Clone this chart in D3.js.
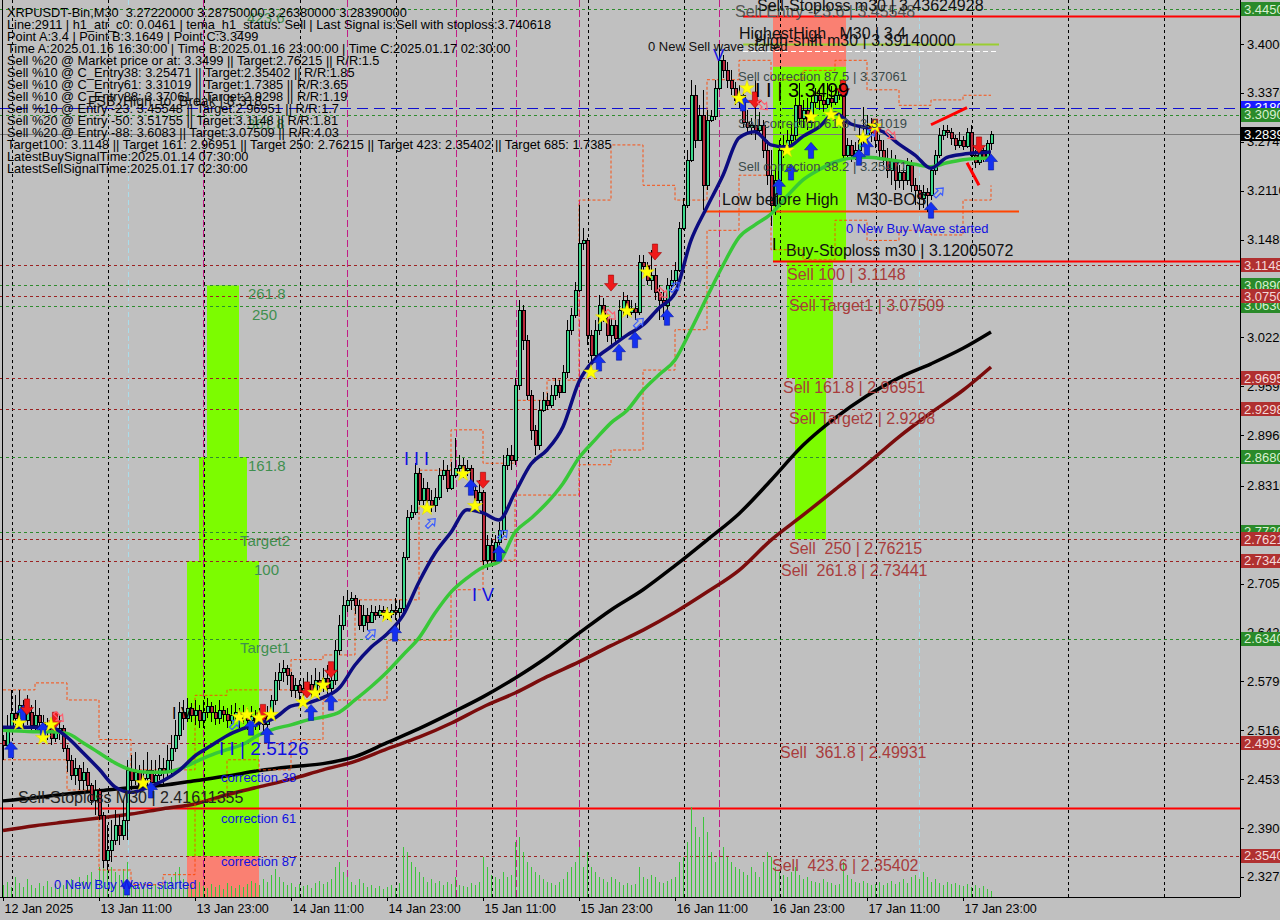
<!DOCTYPE html>
<html><head><meta charset="utf-8">
<script src="https://cdn.jsdelivr.net/npm/d3@7"></script>
<style>
body{margin:0;background:#c0c0c0;overflow:hidden}
svg{display:block}
text{font-family:"Liberation Sans",Arial,sans-serif;white-space:pre}
</style></head><body>
<svg id="c" width="1280" height="920"></svg>
<script>
// ---------------- DATA ----------------
const firstOpen = 2.504;
const closes = [
2.497,2.516,2.538,2.532,2.549,2.529,2.539,2.523,2.536,2.527,
2.516,2.519,2.506,2.514,2.519,2.493,2.478,2.458,2.467,2.452,
2.462,2.445,2.426,2.439,2.407,2.349,2.362,2.375,2.394,2.381,
2.400,2.465,2.452,2.462,2.445,2.454,2.465,2.449,2.458,2.467,
2.462,2.478,2.493,2.510,2.539,2.532,2.545,2.536,2.542,2.529,
2.539,2.547,2.539,2.532,2.542,2.537,2.529,2.536,2.539,2.532,
2.537,2.529,2.534,2.527,2.532,2.524,2.534,2.555,2.581,2.591,
2.596,2.587,2.568,2.574,2.565,2.570,2.576,2.568,2.581,2.574,
2.583,2.570,2.581,2.619,2.652,2.677,2.684,2.686,2.677,2.652,
2.664,2.655,2.668,2.664,2.671,2.668,2.666,2.671,2.668,2.673,
2.739,2.791,2.797,2.847,2.813,2.828,2.813,2.806,2.817,2.845,
2.851,2.828,2.845,2.854,2.858,2.851,2.854,2.826,2.813,2.823,
2.735,2.755,2.735,2.758,2.774,2.858,2.871,2.864,2.961,3.057,
3.019,2.948,2.903,2.883,2.929,2.941,2.935,2.948,2.961,2.952,
2.977,3.032,3.051,3.083,3.144,3.147,3.025,2.999,3.032,3.064,
3.047,3.025,3.038,3.021,3.057,3.070,3.055,3.060,3.055,3.119,
3.114,3.096,3.102,3.081,3.070,3.064,3.090,3.096,3.109,3.163,
3.193,3.251,3.334,3.276,3.309,3.218,3.302,3.307,3.343,3.379,
3.366,3.354,3.343,3.328,3.334,3.300,3.293,3.296,3.289,3.296,
3.263,3.231,3.193,3.225,3.263,3.270,3.276,3.283,3.321,3.305,
3.315,3.300,3.325,3.334,3.328,3.323,3.330,3.325,3.334,3.341,
3.257,3.270,3.257,3.263,3.276,3.283,3.296,3.287,3.276,3.263,
3.253,3.238,3.251,3.225,3.235,3.225,3.244,3.218,3.212,3.202,
3.209,3.205,3.238,3.257,3.283,3.289,3.287,3.279,3.270,3.276,
3.269,3.287,3.257,3.248,3.263,3.253,3.272,3.2839];
const highs = [
2.510,2.536,2.568,2.561,2.568,2.555,2.561,2.549,2.555,2.545,
2.536,2.532,2.523,2.529,2.536,2.523,2.497,2.484,2.480,2.471,
2.475,2.467,2.448,2.452,2.442,2.411,2.394,2.400,2.413,2.407,
2.426,2.478,2.484,2.488,2.471,2.478,2.488,2.478,2.478,2.484,
2.480,2.497,2.510,2.529,2.552,2.555,2.558,2.551,2.555,2.549,
2.555,2.558,2.552,2.549,2.555,2.547,2.545,2.549,2.551,2.545,
2.549,2.545,2.547,2.542,2.545,2.539,2.547,2.561,2.591,2.603,
2.607,2.600,2.591,2.583,2.581,2.583,2.591,2.587,2.596,2.591,
2.596,2.600,2.604,2.632,2.664,2.689,2.697,2.694,2.690,2.684,
2.677,2.673,2.677,2.676,2.677,2.676,2.675,2.679,2.686,2.684,
2.746,2.800,2.806,2.860,2.854,2.841,2.836,2.826,2.828,2.854,
2.864,2.858,2.862,2.893,2.871,2.867,2.864,2.858,2.832,2.838,
2.826,2.767,2.764,2.767,2.784,2.871,2.880,2.883,2.970,3.070,
3.064,3.025,2.954,2.909,2.941,2.952,2.950,2.961,2.970,2.967,
2.987,3.044,3.060,3.093,3.193,3.163,3.150,3.032,3.044,3.077,
3.073,3.051,3.047,3.044,3.070,3.081,3.077,3.070,3.066,3.128,
3.128,3.119,3.135,3.111,3.090,3.083,3.099,3.109,3.119,3.171,
3.202,3.263,3.354,3.347,3.321,3.341,3.315,3.315,3.354,3.400,
3.386,3.377,3.366,3.351,3.347,3.338,3.315,3.305,3.354,3.312,
3.302,3.276,3.263,3.240,3.276,3.283,3.289,3.296,3.330,3.350,
3.328,3.330,3.334,3.343,3.341,3.334,3.350,3.346,3.343,3.347,
3.345,3.279,3.276,3.274,3.292,3.319,3.309,3.305,3.296,3.283,
3.276,3.266,3.263,3.257,3.244,3.240,3.253,3.251,3.227,3.218,
3.218,3.215,3.244,3.263,3.292,3.296,3.296,3.292,3.283,3.287,
3.281,3.292,3.296,3.263,3.270,3.266,3.276,3.2875];
const lows = [
2.478,2.493,2.514,2.523,2.527,2.519,2.523,2.514,2.516,2.516,
2.506,2.504,2.497,2.501,2.504,2.488,2.462,2.452,2.445,2.439,
2.439,2.437,2.420,2.407,2.400,2.339,2.336,2.346,2.368,2.368,
2.375,2.375,2.439,2.445,2.437,2.439,2.445,2.439,2.442,2.452,
2.445,2.452,2.458,2.488,2.504,2.516,2.527,2.527,2.523,2.519,
2.519,2.532,2.527,2.523,2.524,2.527,2.519,2.524,2.527,2.519,
2.524,2.516,2.522,2.516,2.516,2.512,2.519,2.529,2.549,2.568,
2.578,2.574,2.559,2.558,2.555,2.560,2.564,2.558,2.565,2.561,
2.565,2.563,2.561,2.574,2.613,2.645,2.668,2.671,2.666,2.645,
2.643,2.645,2.655,2.658,2.661,2.658,2.658,2.661,2.658,2.645,
2.668,2.735,2.787,2.793,2.806,2.806,2.806,2.797,2.797,2.813,
2.838,2.823,2.826,2.841,2.849,2.841,2.843,2.819,2.806,2.806,
2.729,2.722,2.729,2.733,2.755,2.767,2.851,2.851,2.858,2.954,
3.006,2.941,2.890,2.871,2.877,2.926,2.929,2.931,2.941,2.944,
2.952,2.970,3.025,3.047,3.081,3.135,3.012,2.987,2.996,3.025,
3.042,3.016,3.012,3.012,3.016,3.051,3.047,3.051,3.044,3.051,
3.106,3.090,3.083,3.070,3.044,3.044,3.057,3.083,3.090,3.106,
3.160,3.189,3.248,3.266,3.276,3.186,3.212,3.300,3.302,3.341,
3.356,3.343,3.334,3.321,3.318,3.292,3.287,3.283,3.276,3.283,
3.253,3.218,3.165,3.180,3.218,3.253,3.263,3.270,3.276,3.296,
3.292,3.289,3.292,3.318,3.315,3.312,3.318,3.315,3.321,3.328,
3.251,3.253,3.248,3.251,3.257,3.270,3.276,3.274,3.266,3.253,
3.244,3.227,3.218,3.212,3.215,3.212,3.218,3.209,3.193,3.186,
3.189,3.184,3.199,3.231,3.253,3.276,3.279,3.270,3.263,3.266,
3.263,3.266,3.251,3.240,3.244,3.248,3.251,3.2638];
const volumes = [
12,15,10,20,14,10,18,12,9,14, 11,16,10,13,9,12,15,18,14,20,
16,22,25,18,30,45,38,30,25,22, 28,35,15,12,10,14,9,11,13,10,
12,15,20,25,30,18,14,12,10,15, 11,9,13,10,12,8,14,11,9,12,
10,13,16,14,12,18,15,22,28,20, 15,12,14,10,13,11,12,9,14,16,
13,15,18,30,35,25,20,15,12,18, 14,10,12,9,11,8,10,12,9,14,
50,45,35,30,25,20,15,18,14,16, 12,15,13,20,12,11,10,14,12,15,
40,30,22,20,18,25,20,22,55,60, 45,35,30,25,22,18,15,14,12,15,
18,25,30,35,50,30,45,30,25,20, 18,15,20,18,15,12,14,12,13,30,
20,18,22,20,15,14,16,18,20,35, 40,55,90,70,60,80,65,45,35,40,
50,40,35,30,28,25,22,30,25,20, 35,45,40,30,25,22,20,25,30,22,
18,20,16,15,14,18,15,14,12,13, 35,22,18,15,14,16,14,12,13,15,
12,14,16,13,15,18,14,20,22,18, 25,20,15,18,14,12,15,13,14,12,
11,13,10,12,9,11,8,6];

// moving averages (every 4th bar + last bar)
const temaLine = [2.520,2.520,2.520,2.520,2.507,2.487,2.466,2.443,2.436,2.442,
2.451,2.464,2.483,2.496,2.509,2.518,2.525,2.532,2.547,2.551,
2.558,2.570,2.600,2.623,2.640,2.664,2.707,2.744,2.771,2.800,
2.796,2.787,2.822,2.859,2.877,2.907,2.965,2.994,3.010,3.025,
3.038,3.060,3.079,3.147,3.190,3.231,3.279,3.287,3.270,3.267,
3.281,3.293,3.311,3.297,3.292,3.287,3.271,3.257,3.240,3.254,
3.258,3.260,3.261];
const emaLine = [2.516,2.515,2.514,2.514,2.512,2.500,2.487,2.474,2.465,2.462,
2.462,2.466,2.475,2.484,2.491,2.498,2.510,2.518,2.523,2.529,
2.533,2.539,2.555,2.572,2.591,2.613,2.635,2.667,2.694,2.712,
2.726,2.733,2.771,2.789,2.809,2.834,2.867,2.890,2.912,2.928,
2.954,2.974,2.993,3.032,3.074,3.115,3.151,3.167,3.181,3.204,
3.225,3.238,3.248,3.253,3.254,3.252,3.249,3.245,3.242,3.247,
3.251,3.253,3.253];
// slow averages (every 8th bar + last bar)
const ma200 = [2.425,2.429,2.434,2.438,2.442,2.445,2.451,2.457,2.464,2.469,
2.473,2.482,2.500,2.518,2.538,2.559,2.583,2.610,2.641,2.671,
2.697,2.728,2.761,2.795,2.838,2.883,2.918,2.947,2.970,2.988,
3.008,3.029];
const ma200b = [2.387,2.393,2.398,2.403,2.408,2.415,2.421,2.433,2.443,2.453,
2.465,2.476,2.492,2.507,2.525,2.546,2.564,2.585,2.604,2.625,
2.645,2.668,2.694,2.722,2.761,2.793,2.826,2.859,2.894,2.925,
2.954,2.984];
const bandUpper = [2.568,2.577,2.555,2.504,2.465,2.465,2.561,2.568,2.568,2.607,
2.613,2.684,2.684,2.851,2.903,2.860,2.941,2.967,3.199,3.270,
3.218,3.199,3.354,3.379,3.354,3.366,3.379,3.341,3.321,3.328,
3.334,3.334];
const bandLower = [2.478,2.478,2.439,2.336,2.317,2.330,2.426,2.478,2.465,2.504,
2.555,2.555,2.632,2.632,2.697,2.735,2.819,2.819,2.858,2.877,
2.980,3.032,3.160,3.231,3.135,3.122,3.173,3.147,3.160,3.154,
3.199,3.218];

// signals
const buyArrowBars=[2,5,10,31,37,62,66,77,82,98,117,124,149,154,158,166,185,194,197,202,214,216,232,247];
const buyArrowPrices=[2.491,2.538,2.516,2.314,2.439,2.520,2.510,2.539,2.552,2.641,2.829,2.744,2.989,3.003,3.019,3.048,3.324,3.216,3.235,3.263,3.254,3.267,3.186,3.248];
const sellArrowBars=[6,13,65,76,82,120,152,163,188,210,218,244];
const sellArrowPrices=[2.546,2.529,2.539,2.568,2.594,2.838,3.092,3.132,3.328,3.343,3.293,3.270];
const starBars=[4,10,12,35,59,61,64,67,75,78,80,96,106,115,118,147,150,156,161,184,186,196,202,207,209,215,218];
const starPrices=[2.525,2.506,2.523,2.448,2.533,2.536,2.532,2.536,2.552,2.564,2.574,2.664,2.802,2.846,2.805,2.977,3.048,3.056,3.106,3.330,3.343,3.263,3.306,3.309,3.300,3.279,3.294];
const hollowBuyBars=[58,92,107,125,159,168,217,234];
const hollowBuyPrices=[2.524,2.640,2.783,2.768,3.041,3.087,3.285,3.209];
const hollowSellBars=[14,152,165,190,222];
const hollowSellPrices=[2.533,3.051,3.079,3.321,3.283];

// levels
const greenLevels=[3.445,3.309,3.089,3.063,2.868,2.772,2.734,2.634];
const greenNames=["423.6","361.8","261.8","250","161.8","Target2","100","Target1"];
const greenTags=["3.44500","3.30900","3.08900","3.06300","2.86800","2.77200","2.63400"];
const greenTagValues=[3.445,3.309,3.089,3.063,2.868,2.772,2.634];
const redLevels=[3.1148,3.07509,2.96951,2.9298,2.76215,2.73441,2.49931,2.35402];
const redNames=["Sell 100 | 3.1148","Sell Target1 | 3.07509","Sell 161.8 | 2.96951","Sell Target2 | 2.9298","Sell  250 | 2.76215","Sell  261.8 | 2.73441","Sell  361.8 | 2.49931","Sell  423.6 | 2.35402"];
const leftBandLevels=[3.089,2.868,2.734,2.354];
const rightBandLevels=[3.43625,3.37061,3.12005,2.96951,2.76215];
const correctionLevels=[3.37061,3.31019,3.25471];
const correctionNames=["Sell correction 87.5 | 3.37061","Sell correction 61.8 | 3.31019","Sell correction 38.2 | 3.25471"];
const bidPrice=3.2839, fsbLevel=3.318, sellStopLeft=2.41611355, buyStop=3.12005072, sellStopTop=3.43624928;
const highestHigh=3.4, highShift=3.3914, lowBeforeHigh=3.185, sellEntry=3.45548, pointC=3.3499, pointII=2.5126;

const priceTicks=[3.400,3.337,3.274,3.211,3.148,3.085,3.022,2.959,2.896,2.831,2.768,2.705,2.642,2.579,2.516,2.453,2.390,2.327];
const timeLabels=["12 Jan 2025","13 Jan 11:00","13 Jan 23:00","14 Jan 11:00","14 Jan 23:00","15 Jan 11:00","15 Jan 23:00","16 Jan 11:00","16 Jan 23:00","17 Jan 11:00","17 Jan 23:00"];
const infoLines=[
"XRPUSDT-Bin,M30  3.27220000 3.28750000 3.26380000 3.28390000",
"Line:2911 | h1_atr_c0: 0.0461 | tema_h1_status: Sell | Last Signal is:Sell with stoploss:3.740618",
"Point A:3.4 | Point B:3.1649 | Point C:3.3499",
"Time A:2025.01.16 16:30:00 | Time B:2025.01.16 23:00:00 | Time C:2025.01.17 02:30:00",
"Sell %20 @ Market price or at: 3.3499 || Target:2.76215 || R/R:1.5",
"Sell %10 @ C_Entry38: 3.25471 || Target:2.35402 || R/R:1.85",
"Sell %10 @ C_Entry61: 3.31019 || Target:1.7385 || R/R:3.65",
"Sell %10 @ C_Entry88: 3.37061 || Target:2.9298 || R/R:1.19",
"Sell %10 @ Entry -23: 3.45548 || Target:2.96951 || R/R:1.7",
"Sell %20 @ Entry -50: 3.51755 || Target:3.1148 || R/R:1.81",
"Sell %20 @ Entry -88: 3.6083 || Target:3.07509 || R/R:4.03",
"Target100: 3.1148 || Target 161: 2.96951 || Target 250: 2.76215 || Target 423: 2.35402 || Target 685: 1.7385",
"LatestBuySignalTime:2025.01.14 07:30:00",
"LatestSellSignalTime:2025.01.17 02:30:00"];

// ---------------- DRAW ----------------
const svg=d3.select('#c');
const PR=1240, PB=897;
const x=d3.scaleLinear().domain([0,247]).range([3,991]);
const y=d3.scaleLinear().domain([2.3012,3.4567]).range([PB,0]);
svg.append('rect').attr('width',1280).attr('height',920).attr('fill','#c0c0c0');
svg.append('clipPath').attr('id','pc').append('rect').attr('x',0).attr('y',0).attr('width',PR).attr('height',PB);
const P=svg.append('g').attr('clip-path','url(#pc)');

// bands
function band(b0,b1,p0,p1,col){P.append('rect').attr('x',x(b0)).attr('width',x(b1)-x(b0)).attr('y',y(p0)).attr('height',y(p1)-y(p0)).attr('fill',col);}
band(51,59,leftBandLevels[0],leftBandLevels[1],'#7cfc00');
band(49,61,leftBandLevels[1],leftBandLevels[2],'#7cfc00');
band(46,64,leftBandLevels[2],leftBandLevels[3],'#7cfc00');
band(46,64,leftBandLevels[3],y.domain()[0],'#fa8072');
band(192.5,210.75,rightBandLevels[0],rightBandLevels[1],'#fa8072');
band(192.5,210.75,rightBandLevels[1],rightBandLevels[2],'#7cfc00');
band(196,207.5,rightBandLevels[2],rightBandLevels[3],'#7cfc00');
band(198,205.75,rightBandLevels[3],rightBandLevels[4],'#7cfc00');

// vertical lines
const gridBars=d3.range(0,13).map(k=>24*k+2.25);
gridBars.forEach(b=>P.append('line').attr('x1',Math.round(x(b))+.5).attr('x2',Math.round(x(b))+.5).attr('y1',0).attr('y2',PB).attr('stroke','#000').attr('stroke-dasharray','3,3'));
[50,86,113.25,128.25,144,179].forEach(b=>P.append('line').attr('x1',Math.round(x(b))+.5).attr('x2',Math.round(x(b))+.5).attr('y1',0).attr('y2',PB).attr('stroke','#c21a86').attr('stroke-dasharray','7,3'));
[31.25,229].forEach(b=>P.append('line').attr('x1',Math.round(x(b))+.5).attr('x2',Math.round(x(b))+.5).attr('y1',0).attr('y2',PB).attr('stroke','#a9dcea').attr('stroke-dasharray','5,3'));

// horizontal level lines
function hline(p,col,dash,w,x0,x1){P.append('line').attr('x1',x0==null?0:x0).attr('x2',x1==null?PR:x1).attr('y1',Math.round(y(p))+.5).attr('y2',Math.round(y(p))+.5).attr('stroke',col).attr('stroke-width',w||1).attr('stroke-dasharray',dash||null);}
greenLevels.forEach(p=>hline(p,'#2e8b2e','3,3'));
redLevels.forEach(p=>hline(p,'#9b2222','3,3'));
hline(fsbLevel,'#1010d0','11,6');
hline(bidPrice,'#7a7a7a');
hline(sellStopLeft,'#ff0000',null,2);
hline(buyStop,'#ff0000',null,2,x(192.5));
hline(sellStopTop,'#ff0000',null,2,x(185));
hline(highestHigh,'#9acd32',null,2,x(185),x(249));
hline(highShift,'#ffffff','5,3',1,x(185),x(249));
hline(lowBeforeHigh,'#ff4500',null,2,x(175.5),x(254));

// volumes
const vh=d3.scaleLinear().domain([0,100]).range([0,100]);
volumes.forEach((v,i)=>P.append('line').attr('x1',Math.round(x(i))+.5).attr('x2',Math.round(x(i))+.5).attr('y1',PB).attr('y2',PB-vh(v)).attr('stroke','#3cc43c'));

// slow MAs
const bars8=d3.range(0,248,8).concat([247]);
const bars4=d3.range(0,248,4).concat([247]);
const lg=(bars)=>d3.line().x((d,i)=>x(bars[i])).y(d=>y(d)).curve(d3.curveMonotoneX);
P.append('path').attr('d',lg(bars8)(ma200b)).attr('fill','none').attr('stroke','#7a0c0c').attr('stroke-width',3.5);
P.append('path').attr('d',lg(bars8)(ma200)).attr('fill','none').attr('stroke','#000').attr('stroke-width',3.5);
// bands dashed
const sg=(bars)=>d3.line().x((d,i)=>x(bars[i])).y(d=>y(d)).curve(d3.curveStepAfter);
P.append('path').attr('d',sg(bars8)(bandUpper)).attr('fill','none').attr('stroke','#ff4500').attr('stroke-width',0.9).attr('stroke-dasharray','3,2');
P.append('path').attr('d',sg(bars8)(bandLower)).attr('fill','none').attr('stroke','#ff4500').attr('stroke-width',0.9).attr('stroke-dasharray','3,2');

// candles
const opens=closes.map((c,i)=>i?closes[i-1]:firstOpen);
const cg=P.append('g').attr('shape-rendering','crispEdges');
closes.forEach((c,i)=>{
  const cx=Math.round(x(i))+.5, o=opens[i];
  cg.append('line').attr('x1',cx).attr('x2',cx).attr('y1',y(highs[i])).attr('y2',y(lows[i])).attr('stroke','#000');
  const top=Math.round(y(Math.max(o,c))), bot=Math.round(y(Math.min(o,c)));
  cg.append('rect').attr('x',cx-1.5).attr('y',top+.5).attr('width',3).attr('height',Math.max(1,bot-top))
    .attr('fill',c>=o?'#3ad88a':'#b8283a').attr('stroke','#000').attr('stroke-width',1);
});

// fast MAs
P.append('path').attr('d',lg(bars4)(emaLine)).attr('fill','none').attr('stroke','#38c838').attr('stroke-width',3.5);
P.append('path').attr('d',lg(bars4)(temaLine)).attr('fill','none').attr('stroke','#0c0c80').attr('stroke-width',3.5);

// trend marks
const trendBarsA=[232,241], trendPricesA=[3.296,3.318];
const trendBarsB=[241,244], trendPricesB=[3.247,3.218];
P.append('path').attr('d',lg(trendBarsA)(trendPricesA)).attr('stroke','#ff0000').attr('stroke-width',3).attr('fill','none');
P.append('path').attr('d',lg(trendBarsB)(trendPricesB)).attr('stroke','#ff0000').attr('stroke-width',3).attr('fill','none');

// arrows & stars
const upArrow="M0,-8 L6.5,-0.5 L2.6,-0.5 L2.6,8 L-2.6,8 L-2.6,-0.5 L-6.5,-0.5 Z";
buyArrowBars.forEach((b,i)=>P.append('path').attr('d',upArrow).attr('transform',`translate(${x(b)},${y(buyArrowPrices[i])})`).attr('fill','#1430f0').attr('stroke','#0a1aa0').attr('stroke-width',0.6));
sellArrowBars.forEach((b,i)=>P.append('path').attr('d',upArrow).attr('transform',`translate(${x(b)},${y(sellArrowPrices[i])}) rotate(180)`).attr('fill','#f01a1a').attr('stroke','#a00000').attr('stroke-width',0.6));
const smallArrow="M0,-6 L4.5,-0.5 L1.8,-0.5 L1.8,6 L-1.8,6 L-1.8,-0.5 L-4.5,-0.5 Z";
hollowBuyBars.forEach((b,i)=>P.append('path').attr('d',smallArrow).attr('transform',`translate(${x(b)},${y(hollowBuyPrices[i])}) rotate(45)`).attr('fill','none').attr('stroke','#3a5cff').attr('stroke-width',1.2));
hollowSellBars.forEach((b,i)=>P.append('path').attr('d',smallArrow).attr('transform',`translate(${x(b)},${y(hollowSellPrices[i])}) rotate(135)`).attr('fill','none').attr('stroke','#ff6070').attr('stroke-width',1.2));
const star=d3.symbol().type(d3.symbolStar).size(70);
starBars.forEach((b,i)=>P.append('path').attr('d',star()).attr('transform',`translate(${x(b)},${y(starPrices[i])})`).attr('fill','#ffff00').attr('stroke','#d8d800').attr('stroke-width',0.5));

// ---------------- LABELS ----------------
function T(txt,px,py,size,col){return svg.append('text').attr('x',px).attr('y',py).attr('font-size',size).attr('fill',col).text(txt);}
const L=svg.append('g').attr('clip-path','url(#pc)');
function TL(txt,px,py,size,col){return L.append('text').attr('x',px).attr('y',py).attr('font-size',size).attr('fill',col).text(txt);}
const greenLabelX=[247,247,248,252,248,240,254,240];
greenLevels.forEach((p,i)=>TL(greenNames[i],greenLabelX[i],y(p)+14,15,'#3f8f4f'));
const redLabelX=[787,789,783,789,789,781,780,772];
redLevels.forEach((p,i)=>TL(redNames[i],redLabelX[i],y(p)+15,16,'#a83c3c'));
correctionLevels.forEach((p,i)=>TL(correctionNames[i],738,y(p)+14,13,'#3a4a4a'));
TL('Sell Entry -23.6 | 3.45548',735,y(sellEntry)+16,16,'#555');
TL('Sell-Stoploss m30 | 3.43624928',757,y(sellStopTop)-5,16,'#111');
TL('HighestHigh   M30 | 3.4',739,y(highestHigh)-5,16,'#111');
TL('High-shift m30 | 3.39140000',755,y(highShift)-5,16,'#111');
TL('0 New Sell wave started',648,y(highShift),13,'#111');
TL('I I | 3.3499',755,y(pointC)+14,20,'#000');
TL('Low before High    M30-BOS',722,y(lowBeforeHigh)-6,16,'#111');
TL('0 New Buy Wave started',846,y(buyStop)-28,13,'#1010e0');
TL('Buy-Stoploss m30 | 3.12005072',786,y(buyStop)-5,16,'#111');
TL('I',772,y(buyStop)-11,16,'#000');
TL('Sell-Stoploss M30 | 2.41611355',18,y(sellStopLeft)-5,16,'#222');
TL('I I | 2.5126',219,y(pointII)+22,19,'#1010e0');
TL('correction 38',221,782,13,'#1010e0');
TL('correction 61',221,823,13,'#1010e0');
TL('correction 87',221,866,13,'#1010e0');
TL('0 New Buy Wave started',54,889,13,'#1010e0');
TL('I V',172,719,16,'#000');
TL('I I I',404,465,18,'#1010e0');
TL('I V',472,601,18,'#1010e0');
TL('V',713,61,17,'#1010e0');
TL('FSB_High_to_Break | 3.318',88,y(fsbLevel)-2,14,'#111');

infoLines.forEach((s,i)=>TL(s,7,17+12*i,12.8,'#000'));

// axes frame
svg.append('line').attr('x1',PR+.5).attr('x2',PR+.5).attr('y1',0).attr('y2',PB).attr('stroke','#000');
svg.append('line').attr('x1',0).attr('x2',PR).attr('y1',PB+.5).attr('y2',PB+.5).attr('stroke','#000');
svg.append('line').attr('x1',2.5).attr('x2',2.5).attr('y1',0).attr('y2',PB).attr('stroke','#000');
priceTicks.forEach(p=>{
  svg.append('line').attr('x1',PR).attr('x2',PR+4).attr('y1',Math.round(y(p))+.5).attr('y2',Math.round(y(p))+.5).attr('stroke','#000');
  T(p.toFixed(3)+'0',PR+7,y(p)+4.5,13,'#000');
});
timeLabels.forEach((s,k)=>{
  const tx=Math.round(x(24*k))+.5;
  svg.append('line').attr('x1',tx).attr('x2',tx).attr('y1',PB).attr('y2',PB+4).attr('stroke','#000');
  T(s,tx+1,913,12.5,'#000');
});
function tag(p,txt,bg,fg){svg.append('rect').attr('x',PR+1).attr('y',Math.round(y(p))-7).attr('width',40).attr('height',14).attr('fill',bg);
  T(txt,PR+4,y(p)+4.5,13,fg);}
tag(fsbLevel,'3.31800','#1a1aff','#fff');
greenTagValues.forEach((p,i)=>tag(p,greenTags[i],'#2a8a2a','#d8f0d0'));
redLevels.forEach(p=>tag(p,p.toFixed(5),'#b03030','#f4d8d8'));
tag(bidPrice,'3.28390','#000','#fff');
</script></body></html>
